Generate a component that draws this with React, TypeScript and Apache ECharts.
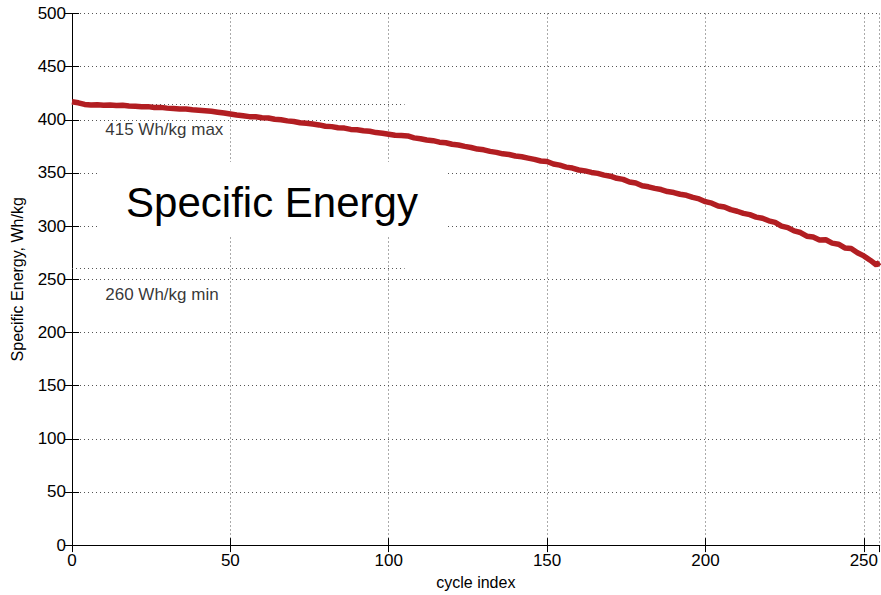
import React, { useEffect, useRef } from "react";
import * as echarts from "echarts";

const cycles = [
  0, 2, 4, 6, 8, 10, 12, 14, 16, 18, 20, 22, 24, 26, 28, 30, 32, 34, 36, 38, 40, 42, 44, 46, 48,
  50, 52, 54, 56, 58, 60, 62, 64, 66, 68, 70, 72, 74, 76, 78, 80, 82, 84, 86, 88, 90, 92, 94, 96, 98,
  100, 102, 104, 106, 108, 110, 112, 114, 116, 118, 120, 122, 124, 126, 128, 130, 132, 134, 136, 138,
  140, 142, 144, 146, 148, 150, 152, 154, 156, 158, 160, 162, 164, 166, 168, 170, 172, 174, 176, 178,
  180, 182, 184, 186, 188, 190, 192, 194, 196, 198, 200, 202, 204, 206, 208, 210, 212, 214, 216, 218,
  220, 222, 224, 226, 228, 230, 232, 234, 236, 238, 240, 242, 244, 246, 248, 250, 252, 254, 255,
];

const specificEnergy = [
  417, 416, 414.5, 414, 414.2, 413.6, 414, 413.4, 413.6, 413, 412.8, 412.2, 412.4, 411.6, 411.7, 411, 410.6, 410.2, 410.1, 409.4, 409, 408.6, 408, 407.2, 406.4,
  405.5, 404.5, 403.8, 403, 402.8, 402, 401.7, 400.5, 400, 399, 398.4, 397.3, 396.8, 396, 395.2, 394, 393.6, 392.5, 392.2, 391, 390.6, 389.7, 389.2, 388, 387.4,
  386.5, 385.5, 385.2, 384.8, 383, 382.2, 381, 380.4, 379, 378.4, 377, 376.3, 375, 374, 372.5, 371.8, 370.3, 369.4, 368, 367.4,
  366, 365.2, 364, 362.8, 361.3, 360.8, 358.5, 357.4, 355.5, 354.6, 352.8, 352, 350.5, 349.6, 348, 347, 345, 344, 341.5, 340.6,
  338, 337, 335.5, 334.4, 332.5, 331.6, 330, 329, 327, 325.6, 323, 321.6, 319, 318, 315.5, 314, 312, 310.8, 308.5, 307.4,
  305, 303.6, 300, 298.6, 295.5, 294, 290.5, 289.8, 287, 287.2, 284, 283, 279.5, 279, 275, 272, 268, 263.5, 266,
];

const xTicks = [0, 50, 100, 150, 200, 250];
const yTicks = [0, 50, 100, 150, 200, 250, 300, 350, 400, 450, 500];
const refLevels = [415, 260];
const refLabels = ["415 Wh/kg max", "260 Wh/kg min"];
const refLineEnd = 105;
const refLabelStart = 10.5;

export default function App() {
  const ref = useRef<HTMLDivElement>(null);
  useEffect(() => {
    if (!ref.current) return;
    const chart = echarts.init(ref.current, null, { renderer: "svg" });
    const font = "'Liberation Sans', Arial, Helvetica, sans-serif";
    const grid = { left: 72, top: 13.5, right: 1, bottom: 49 };
    const gridLine = { type: [1, 3] as any, color: "#555", width: 1 };
    const data = cycles.map((c, i) => [c, specificEnergy[i]]);
    const xMin = xTicks[0];
    const xMax = 255;
    const yMin = yTicks[0];
    const yMax = yTicks[yTicks.length - 1];
    const interval = 50;
    chart.setOption({
      animation: false,
      backgroundColor: "#fff",
      grid,
      textStyle: { fontFamily: font },
      xAxis: [
        {
          type: "value",
          min: xMin,
          max: xMax,
          interval,
          name: "cycle index",
          nameLocation: "middle",
          nameGap: 27,
          nameTextStyle: { fontFamily: font, fontSize: 16, color: "#000" },
          axisLine: { show: true, lineStyle: { color: "#000", width: 1 } },
          axisTick: { show: true, inside: true, length: 7, lineStyle: { color: "#000" } },
          axisLabel: { fontFamily: font, fontSize: 17, color: "#000", margin: 7, showMaxLabel: false },
          splitLine: { show: true, lineStyle: gridLine },
        },
        {
          type: "value",
          position: "top",
          min: xMin,
          max: xMax,
          interval,
          axisLine: { show: true, lineStyle: { color: "#000", width: 1 } },
          axisTick: { show: true, inside: true, length: 7, lineStyle: { color: "#000" } },
          axisLabel: { show: false },
          splitLine: { show: false },
        },
      ],
      yAxis: [
        {
          type: "value",
          min: yMin,
          max: yMax,
          interval,
          name: "Specific Energy, Wh/kg",
          nameLocation: "middle",
          nameGap: 47,
          nameTextStyle: { fontFamily: font, fontSize: 16, color: "#000" },
          axisLine: { show: true, lineStyle: { color: "#000", width: 1 } },
          axisTick: { show: true, inside: true, length: 7, lineStyle: { color: "#000" } },
          axisLabel: { fontFamily: font, fontSize: 17, color: "#000", margin: 6 },
          splitLine: { show: true, lineStyle: gridLine },
        },
        {
          type: "value",
          position: "right",
          min: yMin,
          max: yMax,
          interval,
          axisLine: { show: true, lineStyle: { color: "#000", width: 1 } },
          axisTick: { show: true, inside: true, length: 7, lineStyle: { color: "#000" } },
          axisLabel: { show: false },
          splitLine: { show: false },
        },
      ],
      series: [
        {
          type: "line",
          data,
          showSymbol: false,
          symbol: "none",
          lineStyle: { color: "#B21E22", width: 5.5 },
          z: 5,
          markLine: {
            silent: true,
            symbol: "none",
            label: { show: false },
            lineStyle: { type: [1, 3] as any, color: "#555", width: 1 },
            data: refLevels.map((v) => [{ coord: [xMin, v] }, { coord: [refLineEnd, v] }]),
          },
        },
        {
          type: "scatter",
          data: refLevels.map((v) => [refLabelStart, v]),
          symbolSize: 0,
          silent: true,
          label: {
            show: true,
            position: [0, 26],
            align: "left",
            verticalAlign: "middle",
            formatter: (p: any) => refLabels[p.dataIndex],
            fontFamily: font,
            fontSize: 17,
            color: "#000",
          },
          z: 6,
        },
      ],
      graphic: [
        {
          type: "rect",
          z: 3,
          shape: { x: 97, y: 162, width: 348, height: 75 },
          style: { fill: "#fff" },
        },
        {
          type: "text",
          z: 4,
          x: 272,
          y: 202,
          style: {
            text: "Specific Energy",
            fontFamily: font,
            fontSize: 42,
            fill: "#000",
            align: "center",
            verticalAlign: "middle",
          },
        },
      ],
    });
    return () => chart.dispose();
  }, []);
  return (
    <div
      ref={ref}
      style={{ position: "absolute", left: 0, top: 0, width: 881, height: 595 }}
    />
  );
}
